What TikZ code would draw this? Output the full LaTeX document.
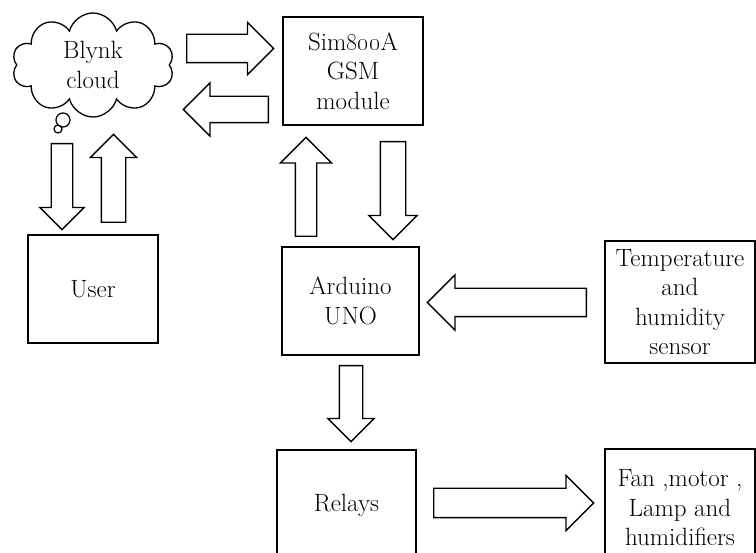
\documentclass[tikz,border=0pt]{standalone}
\usetikzlibrary{shapes.symbols,shapes.arrows}

\tikzset{
	block/.style={draw, line width=1.3pt, align=center, inner sep=0pt,
		font=\fontsize{25}{29.5}\selectfont},
	fatarrow/.style={single arrow, draw, line width=1.3pt}
}

\begin{document}
\begin{tikzpicture}[x=1pt,y=-1pt]
\useasboundingbox (0,0) rectangle (756,553);
\clip (0,0) rectangle (756,553);

\node[cloud, cloud puffs=10, aspect=1.6, draw, line width=1.3pt,
	minimum width=162pt, minimum height=104pt,
	font=\fontsize{25}{29.5}\selectfont, align=center] (blynk) at (93,65) {Blynk\\cloud};
\draw[line width=1.2pt] (63,120) circle (7pt) (58,129) circle (4pt);

\node[block, minimum width=140pt, minimum height=108pt] (gsm) at (353,71)
	{Sim\oldstylenums{800}A\\GSM\\module};
\node[block, minimum width=130pt, minimum height=108pt] (user) at (93,289) {User};
\node[block, minimum width=137pt, minimum height=108pt] (uno) at (350.5,301)
	{Arduino\\UNO};
\node[block, minimum width=150pt, minimum height=122pt] (sensor) at (680,302)
	{Temperature\\and\\humidity\\sensor};
\node[block, minimum width=139pt, minimum height=110pt] (relays) at (346.5,505) {Relays};
\node[block, minimum width=150pt, minimum height=118pt] (loads) at (680,508)
	{Fan ,motor ,\\Lamp and\\humidifiers};

\foreach \nm/\x/\y/\r/\len/\bw/\wd/\ext in {
	upl/186/48.5/0/87/27/51/12,
	dnl/269/109.5/180/85/25/52/13.5,
	tousr/62/143/270/86/20/43/11.5,
	fromusr/113.5/223/90/88/23/45/11,
	touno/393/141/270/98/24/47/11.5,
	fromuno/306/237/90/99/20/50/15,
	sens/587/302.5/180/159/27/54/13.5,
	rel/351/365/270/76/22/45/11.5,
	out/433/503/0/160/28/54/13}
	\node[fatarrow, shape border rotate=\r, anchor=tail, minimum height=\len pt,
		inner sep=\bw pt/2, minimum width=\wd pt, single arrow head extend=\ext pt]
		(\nm) at (\x,\y) {};
\end{tikzpicture}
\end{document}
